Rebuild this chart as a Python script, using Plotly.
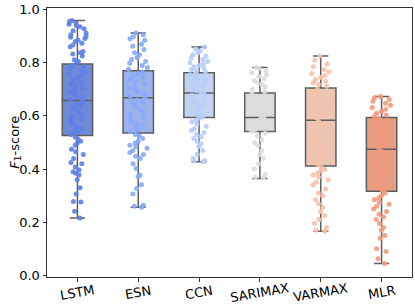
import plotly.graph_objects as go

models = ["LSTM", "ESN", "CCN", "SARIMAX", "VARMAX", "MLR"]

# box statistics
q1 = [0.526, 0.536, 0.594, 0.541, 0.412, 0.317]
median = [0.658, 0.668, 0.686, 0.594, 0.584, 0.475]
q3 = [0.795, 0.770, 0.762, 0.686, 0.705, 0.594]
lower = [0.216, 0.256, 0.428, 0.365, 0.166, 0.045]
upper = [0.959, 0.912, 0.859, 0.782, 0.825, 0.673]

lstm = [0.959, 0.955, 0.950, 0.945, 0.940, 0.935, 0.928, 0.920, 0.912, 0.905, 0.900, 0.896,
        0.891, 0.885, 0.880, 0.873, 0.867, 0.860, 0.842, 0.838, 0.833, 0.825, 0.811, 0.805,
        0.800, 0.790, 0.785, 0.778, 0.770, 0.765, 0.758, 0.750, 0.742, 0.735, 0.728, 0.720,
        0.712, 0.705, 0.698, 0.690, 0.682, 0.675, 0.668, 0.662, 0.655, 0.648, 0.640, 0.632,
        0.625, 0.615, 0.605, 0.598, 0.590, 0.580, 0.570, 0.560, 0.552, 0.545, 0.538, 0.530,
        0.520, 0.512, 0.505, 0.498, 0.490, 0.475, 0.465, 0.455, 0.440, 0.425, 0.420, 0.408,
        0.397, 0.390, 0.384, 0.378, 0.360, 0.330, 0.306, 0.278, 0.276, 0.241, 0.216]
esn = [0.912, 0.905, 0.898, 0.890, 0.885, 0.870, 0.862, 0.850, 0.838, 0.830, 0.820, 0.812,
       0.805, 0.798, 0.790, 0.782, 0.776, 0.765, 0.760, 0.752, 0.745, 0.738, 0.730, 0.722,
       0.715, 0.705, 0.698, 0.690, 0.682, 0.675, 0.670, 0.660, 0.652, 0.645, 0.635, 0.625,
       0.615, 0.605, 0.598, 0.588, 0.578, 0.570, 0.562, 0.555, 0.548, 0.540, 0.530, 0.525,
       0.515, 0.505, 0.498, 0.490, 0.485, 0.478, 0.470, 0.462, 0.455, 0.448, 0.440, 0.420,
       0.402, 0.378, 0.371, 0.341, 0.327, 0.306, 0.264, 0.260, 0.256]
ccn = [0.859, 0.852, 0.845, 0.838, 0.830, 0.825, 0.818, 0.812, 0.805, 0.800, 0.795, 0.790,
       0.785, 0.780, 0.775, 0.770, 0.766, 0.760, 0.755, 0.748, 0.742, 0.735, 0.730, 0.722,
       0.715, 0.710, 0.702, 0.695, 0.690, 0.684, 0.678, 0.670, 0.662, 0.655, 0.648, 0.640,
       0.632, 0.625, 0.618, 0.610, 0.602, 0.596, 0.590, 0.585, 0.578, 0.570, 0.560, 0.552,
       0.545, 0.538, 0.530, 0.522, 0.515, 0.505, 0.495, 0.485, 0.470, 0.455, 0.440, 0.432,
       0.430, 0.428]
sarimax = [0.782, 0.778, 0.770, 0.762, 0.755, 0.748, 0.740, 0.732, 0.725, 0.718, 0.710,
           0.700, 0.692, 0.682, 0.670, 0.660, 0.650, 0.640, 0.630, 0.620, 0.610, 0.600,
           0.592, 0.585, 0.578, 0.570, 0.562, 0.555, 0.548, 0.542, 0.535, 0.525, 0.510,
           0.500, 0.490, 0.470, 0.455, 0.440, 0.420, 0.400, 0.380, 0.370, 0.366]
varmax = [0.825, 0.810, 0.795, 0.785, 0.775, 0.765, 0.760, 0.752, 0.745, 0.738, 0.730,
          0.725, 0.718, 0.712, 0.700, 0.690, 0.680, 0.668, 0.655, 0.642, 0.630, 0.618,
          0.605, 0.592, 0.580, 0.568, 0.555, 0.540, 0.525, 0.510, 0.495, 0.480, 0.465,
          0.450, 0.438, 0.425, 0.415, 0.405, 0.398, 0.392, 0.385, 0.378, 0.370, 0.360,
          0.350, 0.340, 0.325, 0.310, 0.300, 0.285, 0.270, 0.255, 0.240, 0.225, 0.210,
          0.195, 0.180, 0.170, 0.166]
mlr = [0.673, 0.668, 0.662, 0.655, 0.648, 0.640, 0.632, 0.625, 0.618, 0.610, 0.603, 0.598,
       0.590, 0.582, 0.575, 0.565, 0.555, 0.545, 0.535, 0.525, 0.515, 0.505, 0.495, 0.485,
       0.475, 0.465, 0.455, 0.445, 0.432, 0.420, 0.408, 0.395, 0.382, 0.370, 0.358, 0.345,
       0.332, 0.320, 0.310, 0.300, 0.292, 0.285, 0.275, 0.268, 0.260, 0.250, 0.240, 0.230,
       0.220, 0.210, 0.195, 0.180, 0.170, 0.150, 0.140, 0.100, 0.090, 0.063, 0.045]
points = [lstm, esn, ccn, sarimax, varmax, mlr]

yticks = [0.0, 0.2, 0.4, 0.6, 0.8, 1.0]
yticklabels = ["0.0", "0.2", "0.4", "0.6", "0.8", "1.0"]
y_title = "<i>F</i><sub>1</sub>-score"

box_fill = ["#6f88d8", "#9cb2ea", "#c2d2f0", "#dcdcdc", "#ecc6b2", "#e89c82"]
dot_color = ["#5d80e8", "#86a9f9", "#b6cdfa", "#dddddd", "#f6c1a6", "#f4997b"]

FONT = "DejaVu Sans"
FS = 13

fig = go.Figure()
for i, m in enumerate(models):
    fig.add_trace(go.Box(
        x=[m], q1=[q1[i]], median=[median[i]], q3=[q3[i]],
        lowerfence=[lower[i]], upperfence=[upper[i]],
        fillcolor=box_fill[i], line=dict(color="#5e5e5e", width=1.5),
        width=0.5, whiskerwidth=0.5, boxpoints=False, showlegend=False))
for i, m in enumerate(models):
    fig.add_trace(go.Box(
        x=[m] * len(points[i]), y=points[i], boxpoints="all", jitter=0.65, pointpos=0,
        fillcolor="rgba(0,0,0,0)", line=dict(width=0, color="rgba(0,0,0,0)"),
        marker=dict(color=dot_color[i], size=5, opacity=0.9),
        width=0.5, showlegend=False))

# rotated category labels under each tick
for m in models:
    fig.add_annotation(x=m, xref="x", y=-0.058, yref="paper", text=m, showarrow=False,
                       textangle=-10, xanchor="center", yanchor="middle",
                       font=dict(family=FONT, size=FS, color="black"))

# y-axis title
fig.add_annotation(x=-0.087, xref="paper", y=0.5, yref="paper", text=y_title,
                   showarrow=False, textangle=-90, xanchor="center", yanchor="middle",
                   font=dict(family=FONT, size=FS, color="black"))

axis_common = dict(showline=True, linecolor="#333333", linewidth=1, mirror=True,
                   ticks="outside", ticklen=3.5, tickcolor="#333333", showgrid=False,
                   zeroline=False, tickfont=dict(family=FONT, size=FS, color="black"))
fig.update_layout(
    width=415, height=305, margin=dict(l=47, r=2, t=4, b=28),
    paper_bgcolor="white", plot_bgcolor="white", boxmode="overlay",
    font=dict(family=FONT, size=FS, color="black"),
    xaxis=dict(**axis_common, type="category", categoryorder="array",
               categoryarray=models, range=[-0.5, 5.5], showticklabels=False),
    yaxis=dict(**axis_common, range=[-0.006, 1.006], tickvals=yticks,
               ticktext=yticklabels, ticklabeloverflow="allow"),
)
fig.write_html("out.html", config={"displayModeBar": False},
               post_script="document.body.style.margin='0';")
